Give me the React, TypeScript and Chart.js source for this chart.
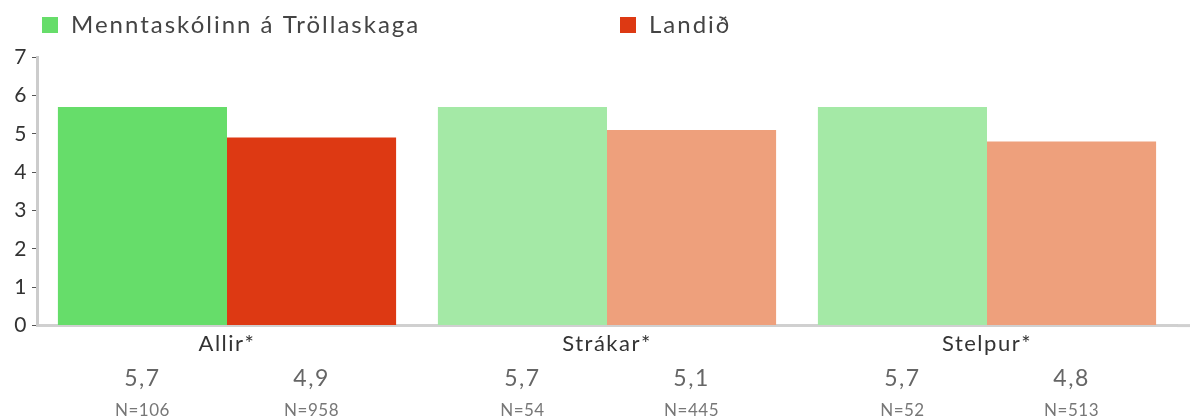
import React, { useEffect, useRef } from "react";
import { Chart, registerables } from "chart.js";

Chart.register(...registerables);

const categories = ["Allir*", "Strákar*", "Stelpur*"];
const seriesNames = ["Menntaskólinn á Tröllaskaga", "Landið"];
const schoolValues = [5.7, 5.7, 5.7];
const nationValues = [4.9, 5.1, 4.8];
const schoolN = [106, 54, 52];
const nationN = [958, 445, 513];
const yMin = 0;
const yMax = 7;

const schoolColors = ["#66DD6A", "#A4E9A6", "#A4E9A6"];
const nationColors = ["#DD3913", "#EEA07C", "#EEA07C"];
const legendColors = ["#66DD6A", "#DD3913"];
const FONT = "Lato, 'Noto Sans', sans-serif";

const nLists = [schoolN, nationN];

const extrasPlugin = {
  id: "extras",
  beforeDraw(chart: any) {
    (chart.ctx as any).letterSpacing = "1.5px";
  },
  afterDraw(chart: any) {
    const ctx = chart.ctx;
    const area = chart.chartArea;
    ctx.save();
    // extend x axis line to the right edge
    ctx.strokeStyle = "#d0d0d0";
    ctx.lineWidth = 3;
    ctx.beginPath();
    ctx.moveTo(area.right, area.bottom);
    ctx.lineTo(chart.width, area.bottom);
    ctx.stroke();

    // values and N under bars
    ctx.textAlign = "center";
    ctx.textBaseline = "middle";
    chart.data.datasets.forEach((ds: any, di: number) => {
      const meta = chart.getDatasetMeta(di);
      meta.data.forEach((bar: any, i: number) => {
        const v = ds.data[i] as number;
        ctx.fillStyle = "#666";
        ctx.font = `400 23px ${FONT}`;
        (ctx as any).letterSpacing = "1.5px";
        ctx.fillText(v.toFixed(1).replace(".", ","), bar.x, area.bottom + 53);
        ctx.fillStyle = "#777";
        ctx.font = `400 17px ${FONT}`;
        (ctx as any).letterSpacing = "0.5px";
        ctx.fillText("N=" + nLists[di][i], bar.x, area.bottom + 85);
      });
    });

    // legend
    const legendX = [42, 620];
    ctx.textAlign = "left";
    ctx.textBaseline = "middle";
    seriesNames.forEach((name, i) => {
      ctx.fillStyle = legendColors[i];
      ctx.fillRect(legendX[i], 17, 16, 16);
      ctx.fillStyle = "#444";
      ctx.font = `400 24px ${FONT}`;
      (ctx as any).letterSpacing = "2px";
      ctx.fillText(name, legendX[i] + 29, 25);
    });
    ctx.restore();
  },
};

export default function App() {
  const ref = useRef<HTMLCanvasElement>(null);
  useEffect(() => {
    document.body.style.margin = "0";
    const chart = new Chart(ref.current as HTMLCanvasElement, {
      type: "bar",
      data: {
        labels: categories,
        datasets: [
          {
            label: seriesNames[0],
            data: schoolValues,
            backgroundColor: schoolColors,
            borderWidth: 0,
            categoryPercentage: 0.89,
            barPercentage: 1,
          },
          {
            label: seriesNames[1],
            data: nationValues,
            backgroundColor: nationColors,
            borderWidth: 0,
            categoryPercentage: 0.89,
            barPercentage: 1,
          },
        ],
      },
      options: {
        animation: false,
        responsive: false,
        maintainAspectRatio: false,
        layout: { padding: { top: 57, bottom: 57, right: 13, left: 0 } },
        plugins: { legend: { display: false }, tooltip: { enabled: false } },
        scales: {
          x: {
            grid: { display: false, drawTicks: false },
            border: { display: true, color: "#d0d0d0", width: 3 },
            ticks: { font: { family: FONT, size: 22, weight: 400 }, color: "#333", padding: 5 },
          },
          y: {
            min: yMin,
            max: yMax,
            afterFit(scale: any) {
              scale.width = 37;
            },
            grid: { drawOnChartArea: false, drawTicks: true, tickLength: 5, color: "#555", lineWidth: 1 },
            border: { display: true, color: "#cccccc", width: 3 },
            ticks: { stepSize: 1, font: { family: FONT, size: 21, weight: 400 }, color: "#333", padding: 4 },
          },
        },
      },
      plugins: [extrasPlugin],
    } as any);
    return () => chart.destroy();
  }, []);
  return (
    <div style={{ width: 1190, height: 419 }}>
      <canvas ref={ref} width={1190} height={419} style={{ display: "block" }} />
    </div>
  );
}
